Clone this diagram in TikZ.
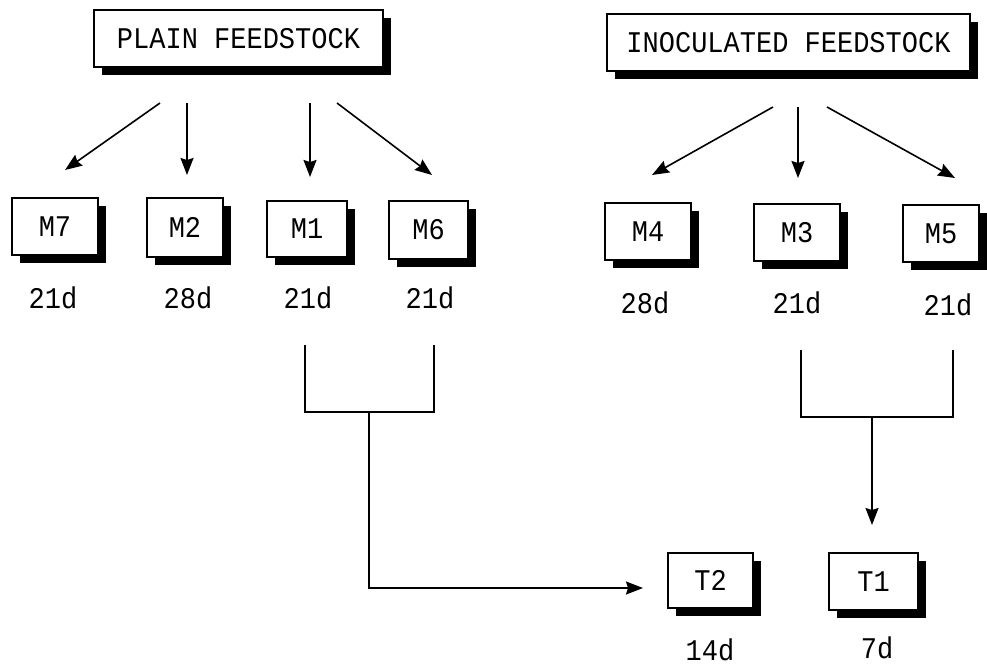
\documentclass[tikz,border=0pt]{standalone}
\usepackage{fontspec}
\newfontfamily\plotfont[FakeStretch=0.9]{Liberation Mono}
\usetikzlibrary{arrows.meta,shadows}
\begin{document}
\begin{tikzpicture}[x=1pt,y=-1pt,
  box/.style={draw, line width=1.3pt, fill=white, inner sep=0pt,
    font={\plotfont\fontsize{30}{30}\selectfont},
    drop shadow={shadow xshift=8pt, shadow yshift=-8pt, fill=black, opacity=1}},
  lbl/.style={inner sep=0pt, font={\plotfont\fontsize{30}{30}\selectfont}},
  arr/.style={line width=1.6pt, -{Stealth[length=17pt,width=13pt,inset=2pt]}},
  link/.style={line width=1.6pt}]
\useasboundingbox (0,0) rectangle (987,665);
% source boxes
\node[box, minimum width=289pt, minimum height=57pt] (plain) at (238.5,38.5) {PLAIN FEEDSTOCK};
\node[box, minimum width=363pt, minimum height=57pt] (inoc) at (788.5,42.5) {INOCULATED FEEDSTOCK};
% M boxes
\node[box, minimum width=86pt, minimum height=57pt] (m7) at (55,226.5) {M7};
\node[box, minimum width=76pt, minimum height=59pt] (m2) at (185,227.5) {M2};
\node[box, minimum width=80pt, minimum height=56pt] (m1) at (307,229) {M1};
\node[box, minimum width=79pt, minimum height=58pt] (m6) at (428.5,230) {M6};
\node[box, minimum width=86pt, minimum height=57pt] (m4) at (648,231.5) {M4};
\node[box, minimum width=86pt, minimum height=57pt] (m3) at (797,232.5) {M3};
\node[box, minimum width=76pt, minimum height=57pt] (m5) at (941,233.5) {M5};
% T boxes
\node[box, minimum width=85pt, minimum height=55pt] (t2) at (710.5,580.5) {T2};
\node[box, minimum width=89pt, minimum height=57pt] (t1) at (873.5,581.5) {T1};
% duration labels
\node[lbl] (l7) at (53,298) {21d};
\node[lbl] (l2) at (188,298) {28d};
\node[lbl] (l1) at (308,298) {21d};
\node[lbl] (l6) at (430,298) {21d};
\node[lbl] (l4) at (645,303) {28d};
\node[lbl] (l3) at (797,303) {21d};
\node[lbl] (l5) at (948,305) {21d};
\node[lbl] (lt2) at (710,650) {14d};
\node[lbl] (lt1) at (877,648) {7d};
% arrow end coordinates
\coordinate (pa1) at (160,103); \coordinate (pe1) at (65,170);
\coordinate (pa2) at (187,103); \coordinate (pe2) at (187,175);
\coordinate (pa3) at (310,103); \coordinate (pe3) at (310,177);
\coordinate (pa4) at (337,103); \coordinate (pe4) at (432,175);
\coordinate (ia1) at (773,107); \coordinate (ie1) at (652,175);
\coordinate (ia2) at (798,107); \coordinate (ie2) at (798,178);
\coordinate (ia3) at (827,107); \coordinate (ie3) at (955,178);
\draw[arr] (pa1) -- (pe1);
\draw[arr] (pa2) -- (pe2);
\draw[arr] (pa3) -- (pe3);
\draw[arr] (pa4) -- (pe4);
\draw[arr] (ia1) -- (ie1);
\draw[arr] (ia2) -- (ie2);
\draw[arr] (ia3) -- (ie3);
% left bracket to T2
\coordinate (b1a) at (305,345); \coordinate (b1b) at (434,345);
\coordinate (b1m) at (369,412); \coordinate (b1c) at (369,588);
\coordinate (b1e) at (643,588);
\draw[link, line join=miter] (b1a) |- (b1m) -| (b1b);
\draw[arr] (b1m) -- (b1c) -- (b1e);
% right bracket to T1
\coordinate (b2a) at (801,350); \coordinate (b2b) at (953,350);
\coordinate (b2m) at (872,417); \coordinate (b2e) at (872,525);
\draw[link, line join=miter] (b2a) |- (b2m) -| (b2b);
\draw[arr] (b2m) -- (b2e);
\end{tikzpicture}
\end{document}
